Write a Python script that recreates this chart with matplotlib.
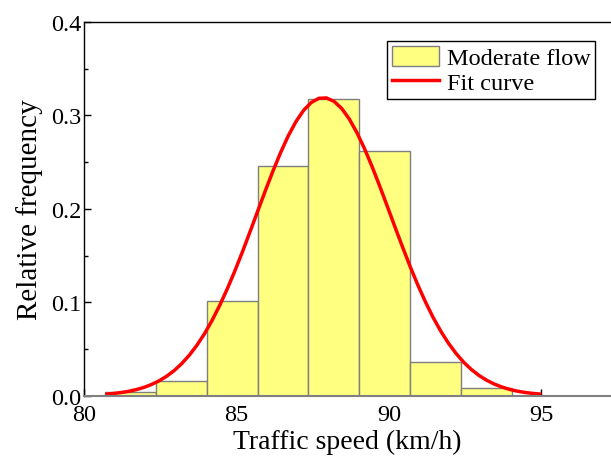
import matplotlib
matplotlib.use("Agg")
import matplotlib.pyplot as plt
from matplotlib.ticker import MultipleLocator
from matplotlib.patches import Patch
from matplotlib.lines import Line2D

# Histogram (relative frequency) data
bin_edges = [80.69, 82.36, 84.02, 85.69, 87.35, 89.02, 90.69, 92.35, 94.02]
rel_freq = [0.004, 0.016, 0.101, 0.246, 0.318, 0.262, 0.036, 0.008]

# Fit curve points
fit_x = [80.70, 80.95, 81.20, 81.45, 81.70, 81.95, 82.20, 82.45, 82.70, 82.95,
         83.20, 83.45, 83.70, 83.95, 84.20, 84.45, 84.70, 84.95, 85.20, 85.45,
         85.70, 85.95, 86.20, 86.45, 86.70, 86.95, 87.20, 87.45, 87.70, 87.95,
         88.20, 88.45, 88.70, 88.95, 89.20, 89.45, 89.70, 89.95, 90.20, 90.45,
         90.70, 90.95, 91.20, 91.45, 91.70, 91.95, 92.20, 92.45, 92.70, 92.95,
         93.20, 93.45, 93.70, 93.95, 94.20, 94.45, 94.70, 95.00]
fit_y = [0.0016, 0.0023, 0.0033, 0.0046, 0.0064, 0.0087, 0.0118, 0.0157, 0.0206, 0.0267,
         0.0342, 0.0432, 0.0539, 0.0663, 0.0806, 0.0967, 0.1145, 0.1338, 0.1544, 0.1760,
         0.1979, 0.2197, 0.2408, 0.2605, 0.2783, 0.2934, 0.3054, 0.3138, 0.3183, 0.3187,
         0.3150, 0.3074, 0.2961, 0.2815, 0.2643, 0.2449, 0.2240, 0.2023, 0.1803, 0.1587,
         0.1378, 0.1182, 0.1001, 0.0836, 0.0690, 0.0562, 0.0452, 0.0358, 0.0281, 0.0217,
         0.0166, 0.0125, 0.0093, 0.0068, 0.0049, 0.0035, 0.0025, 0.0016]

x_ticks = [80, 85, 90, 95]
y_ticks = [0.0, 0.1, 0.2, 0.3, 0.4]

plt.rcParams['font.family'] = ['Liberation Serif', 'DejaVu Serif']

fig = plt.figure(figsize=(6.11, 4.64), dpi=100)
ax = fig.add_axes([84 / 611, 1 - 396.7 / 464, 1 - 84 / 611, (396.7 - 23) / 464])

widths = [bin_edges[i + 1] - bin_edges[i] for i in range(len(rel_freq))]
ax.bar(bin_edges[:-1], rel_freq, width=widths, align='edge',
       color='#FFFF80', edgecolor='#7f7f7f', linewidth=1.0, zorder=2)
ax.plot(fit_x, fit_y, color='#FF0000', linewidth=2.5, zorder=3,
        solid_capstyle='butt', solid_joinstyle='round')

ax.set_xlim(80, 97.28)
ax.set_ylim(0, 0.4)
ax.set_xticks(x_ticks)
ax.set_yticks(y_ticks)
ax.set_xticklabels([str(t) for t in x_ticks])
ax.set_yticklabels([f"{t:.1f}" for t in y_ticks])
ax.xaxis.set_minor_locator(MultipleLocator(2.5))
ax.yaxis.set_minor_locator(MultipleLocator(0.05))
ax.tick_params(axis='both', which='major', direction='in', length=5, width=1,
               labelsize=17.5)
ax.tick_params(axis='x', which='major', pad=6)
ax.tick_params(axis='y', which='major', pad=2)
ax.tick_params(axis='both', which='minor', direction='in', length=3, width=1)
ax.tick_params(top=False, right=False, which='both')

ax.spines['right'].set_visible(False)
ax.spines['top'].set_linewidth(1.0)
ax.spines['left'].set_linewidth(1.0)
ax.spines['bottom'].set_color('#808080')
ax.spines['bottom'].set_linewidth(1.5)
ax.spines['bottom'].set_zorder(4)

ax.set_xlabel('Traffic speed (km/h)', fontsize=20, labelpad=3)
ax.set_ylabel('Relative frequency', fontsize=21, labelpad=6)

handles = [Patch(facecolor='#FFFF80', edgecolor='#7f7f7f', linewidth=1.0),
           Line2D([0], [0], color='#FF0000', linewidth=2.5)]
leg = ax.legend(handles, ['Moderate flow', 'Fit curve'],
                loc='upper left', bbox_to_anchor=(387 / 611, 1 - 42 / 464),
                bbox_transform=fig.transFigure,
                fontsize=17.5, frameon=True, fancybox=False, edgecolor='black',
                framealpha=1, borderpad=0.2, labelspacing=0.05,
                handlelength=1.95, handleheight=0.9, handletextpad=0.3,
                borderaxespad=0)
leg.get_frame().set_linewidth(1.0)

fig.savefig('out.png', dpi=100)
